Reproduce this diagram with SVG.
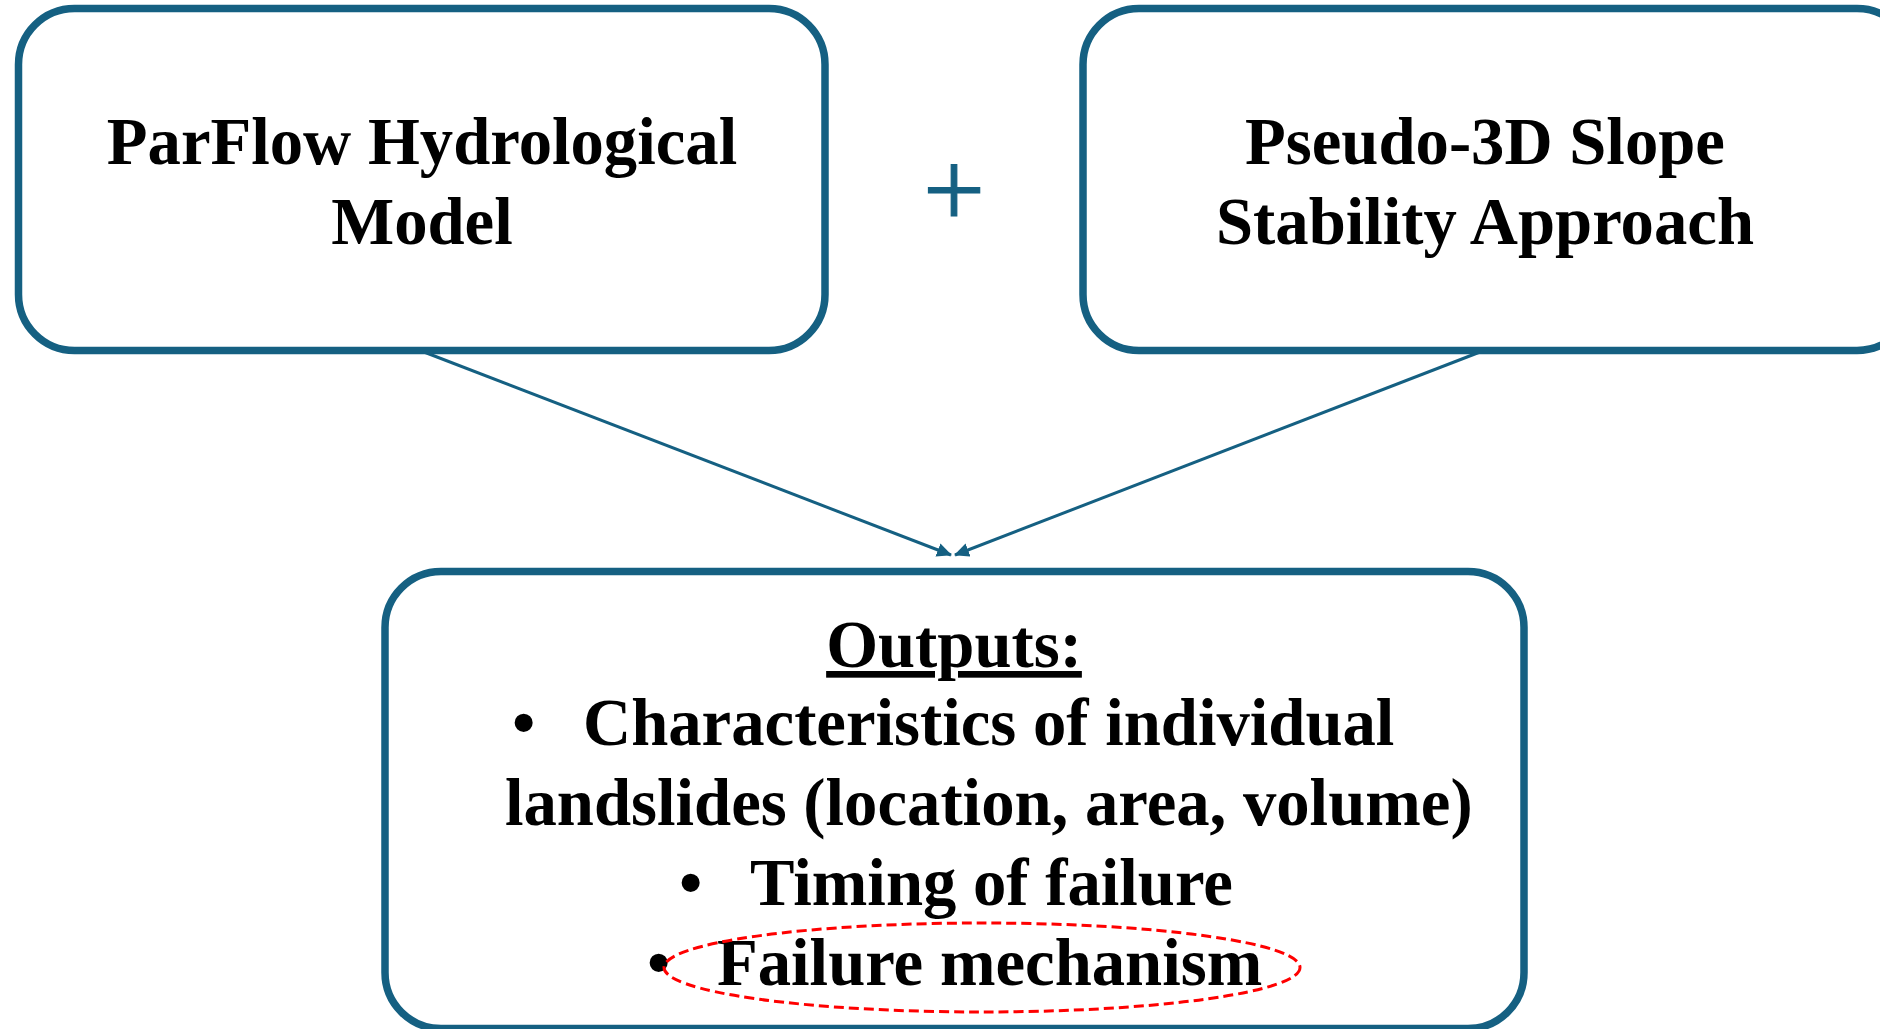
<svg xmlns="http://www.w3.org/2000/svg" width="1880" height="1029" viewBox="0 0 1880 1029">
<defs>
<style>
.box{fill:#ffffff;stroke:#156082;stroke-width:7.5}
.t{font-family:"Liberation Serif","Times New Roman",serif;font-weight:bold;font-size:66.7px;fill:#000000}
.conn{stroke:#156082;stroke-width:3;fill:none}
</style>
<marker id="arr" markerUnits="userSpaceOnUse" markerWidth="15" markerHeight="14" refX="14" refY="7" orient="auto">
<path d="M0,0 L15,7 L0,14 z" fill="#156082"/>
</marker>
</defs>
<rect width="1880" height="1029" fill="#ffffff"/>
<g id="connectors">
<line class="conn" x1="424" y1="352" x2="951" y2="555" marker-end="url(#arr)"/>
<line class="conn" x1="1480" y1="352" x2="955" y2="555" marker-end="url(#arr)"/>
</g>
<g id="parflow">
<rect class="box" x="18.5" y="8.5" width="806.5" height="342" rx="56" ry="56"/>
<text class="t" x="422" y="164" text-anchor="middle">ParFlow Hydrological</text>
<text class="t" x="422" y="244" text-anchor="middle">Model</text>
</g>
<g id="plus">
<text x="954" y="227" text-anchor="middle" font-family="Liberation Serif, serif" font-size="110" fill="#156082" stroke="#156082" stroke-width="1.2">+</text>
</g>
<g id="pseudo3d">
<rect class="box" x="1083" y="8.5" width="830" height="342" rx="56" ry="56"/>
<text class="t" x="1485" y="164" text-anchor="middle">Pseudo-3D Slope</text>
<text class="t" x="1485" y="244" text-anchor="middle">Stability Approach</text>
</g>
<g id="outputs">
<rect class="box" x="385" y="571.5" width="1139" height="457" rx="56" ry="56"/>
<text class="t" x="954" y="667" text-anchor="middle" text-decoration="underline">Outputs:</text>
<text class="t" x="512" y="745">•</text>
<text class="t" x="583" y="745">Characteristics of individual</text>
<text class="t" x="505" y="825">landslides (location, area, volume)</text>
<text class="t" x="679" y="905">•</text>
<text class="t" x="750" y="905">Timing of failure</text>
<text class="t" x="647" y="985">•</text>
<text class="t" x="717" y="985">Failure mechanism</text>
<ellipse cx="982" cy="967.5" rx="318" ry="44.5" fill="none" stroke="#ff0000" stroke-width="3" stroke-dasharray="10 5"/>
</g>
</svg>
